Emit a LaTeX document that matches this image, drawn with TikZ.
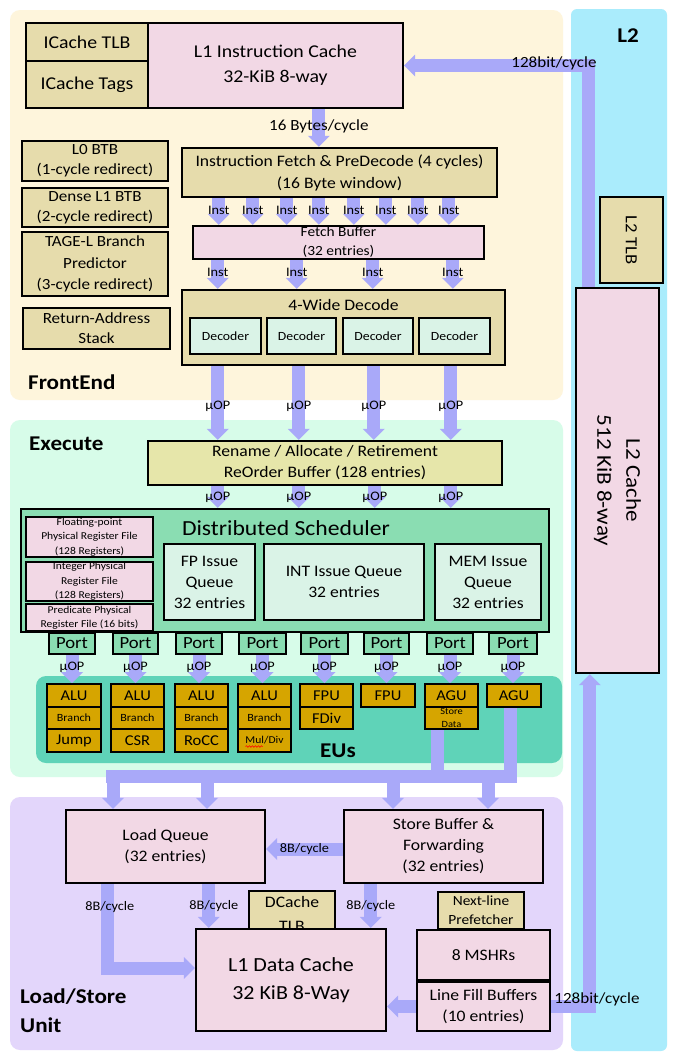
\documentclass[tikz,border=0pt]{standalone}
\usepackage{fontspec}
\setmainfont{Carlito}[FakeStretch=1.1]
\usetikzlibrary{arrows.meta,decorations.pathmorphing}
\definecolor{cFront}{HTML}{FEF5DC}
\definecolor{cLtwo}{HTML}{AAECFC}
\definecolor{cExec}{HTML}{D7FCE9}
\definecolor{cLSU}{HTML}{E3D6FB}
\definecolor{cPink}{HTML}{F2D8E5}
\definecolor{cTan}{HTML}{E6DCAC}
\definecolor{cRen}{HTML}{E6E6AA}
\definecolor{cSched}{HTML}{8ADDB2}
\definecolor{cMint}{HTML}{DAF3E7}
\definecolor{cEU}{HTML}{5FD3B8}
\definecolor{cGold}{HTML}{D6A500}
\definecolor{cArr}{HTML}{A9A9F9}
\newcommand\fsz[2]{\fontsize{#1}{#2}\selectfont}
\newcommand\bxnode[7]{\pgfmathsetmacro\bxw{#4-#2}\pgfmathsetmacro\bxh{#5-#3}%
  \node[#6,minimum width=\bxw pt,minimum height=\bxh pt] (#1) at ({(#2+#4)/2},{(#3+#5)/2}) {#7};}
\begin{document}
\begin{tikzpicture}[x=1pt,y=-1pt,
  blk/.style={draw=black,line width=2.4pt,inner sep=0pt,align=center,font=\fsz{16}{21}},
  pinkb/.style={blk,fill=cPink},
  tanb/.style={blk,fill=cTan},
  mintb/.style={blk,fill=cMint},
  renb/.style={blk,fill=cRen},
  schedb/.style={blk,fill=cSched},
  portb/.style={blk,fill=cSched,line width=1.8pt,font=\fsz{17}{19}},
  eub/.style={blk,fill=cGold,line width=2pt,font=\fsz{15}{17}},
  arr/.style={draw=cArr,line width=13pt,-{Triangle[width=22pt,length=11pt,line width=0pt]}},
  arrshaft/.style={draw=cArr,line width=13pt},
  lblS/.style={inner sep=0pt,font=\fsz{13}{15}},
  lblM/.style={inner sep=0pt,font=\fsz{15.5}{18}},
  ttl/.style={inner sep=0pt,font=\bfseries\fsz{21}{29},align=left},
]
\path[use as bounding box,fill=white] (0,0) rectangle (676,1063);
% panels
\fill[cFront,rounded corners=10pt] (10,10) rectangle (563,400);
\fill[cLtwo,rounded corners=6pt] (571,9) rectangle (667,1051);
\fill[cExec,rounded corners=10pt] (10,420) rectangle (563,777);
\fill[cLSU,rounded corners=10pt] (10,797) rectangle (563,1050);
\fill[cEU,rounded corners=10pt] (36,676) rectangle (562,763);
% titles
\node[ttl,anchor=west] (tFE) at (28,382) {FrontEnd};
\node[ttl,anchor=west] (tEX) at (29,444) {Execute};
\node[ttl] (tLtwo) at (628,36) {L2};
\node[ttl,anchor=west] (tLSU) at (20,1011) {Load/Store\\Unit};
\node[ttl] (tEU) at (338,751) {EUs};
% FrontEnd
\bxnode{ictlb}{26}{23}{148}{61}{tanb,font=\fsz{18}{22}}{ICache TLB}
\bxnode{ictags}{26}{61}{148}{108}{tanb,font=\fsz{18}{22}}{ICache Tags}
\bxnode{l1i}{148}{23}{403}{108}{pinkb,font=\fsz{18}{25}}{\rule{0pt}{4pt}L1 Instruction Cache\\32-KiB 8-way}
\bxnode{ifetch}{182}{148}{497}{197}{tanb,font=\fsz{16}{22}}{Instruction Fetch \& PreDecode (4 cycles)\\(16 Byte window)}
\bxnode{l0btb}{22}{141}{168}{181}{tanb,font=\fsz{15.5}{20}}{L0 BTB\\(1-cycle redirect)}
\bxnode{dbtb}{22}{188}{168}{227}{tanb,font=\fsz{15.5}{20}}{Dense L1 BTB\\(2-cycle redirect)}
\bxnode{tage}{22}{232}{168}{296}{tanb,font=\fsz{15.5}{21.5}}{TAGE-L Branch\\Predictor\\(3-cycle redirect)}
\bxnode{ras}{23}{308}{170}{349}{tanb,font=\fsz{15.5}{20}}{Return-Address\\Stack}
\bxnode{fbuf}{193}{226}{484}{259}{pinkb,font=\fsz{14}{19}}{Fetch Buffer\\(32 entries)}
\bxnode{decode}{182}{290}{505}{365}{tanb}{}
\node[font=\fsz{16}{20}] (decT) at (343.5,305) {4-Wide Decode};
\bxnode{dec1}{190}{318}{261}{354}{mintb,font=\fsz{12.5}{15}}{Decoder}
\bxnode{dec2}{267}{318}{336}{354}{mintb,font=\fsz{12.5}{15}}{Decoder}
\bxnode{dec3}{343}{318}{413}{354}{mintb,font=\fsz{12.5}{15}}{Decoder}
\bxnode{dec4}{419}{318}{490}{354}{mintb,font=\fsz{12.5}{15}}{Decoder}
% L2
\bxnode{l2tlb}{600}{197}{663}{283}{tanb}{}
\node[rotate=-90,font=\fsz{17}{20}] (l2tlbT) at (l2tlb.center) {L2 TLB};
\bxnode{l2c}{576}{288}{659}{673}{pinkb}{}
\node[rotate=-90,align=center,font=\fsz{21}{29}] (l2cT) at (l2c.center) {L2 Cache\\512 KiB 8-way};
% Execute
\bxnode{ren}{148}{441}{502}{485}{renb,font=\fsz{16}{21}}{Rename / Allocate / Retirement\\ReOrder Buffer (128 entries)}
\bxnode{sched}{21}{509}{549}{632}{schedb}{}
\node[font=\fsz{21.5}{24}] (schedT) at (286,528) {Distributed Scheduler};
\bxnode{fprf}{26}{517}{153}{557}{pinkb,line width=2pt,font=\fsz{10.5}{14.5}}{Floating-point\\Physical Register File\\(128 Registers)}
\bxnode{intrf}{26}{562}{153}{601}{pinkb,line width=2pt,font=\fsz{10.5}{14.5}}{Integer Physical\\Register File\\(128 Registers)}
\bxnode{prrf}{26}{604}{153}{631}{pinkb,line width=2pt,font=\fsz{10.5}{14}}{Predicate Physical\\Register File (16 bits)}
\bxnode{fpiq}{164}{544}{255}{620}{mintb,font=\fsz{16}{21}}{FP Issue\\Queue\\32 entries}
\bxnode{intiq}{264}{544}{424}{620}{mintb,font=\fsz{16}{21}}{INT Issue Queue\\32 entries}
\bxnode{memiq}{435}{544}{541}{620}{mintb,font=\fsz{16}{21}}{MEM Issue\\Queue\\32 entries}
\foreach \a/\b [count=\i] in {49/95,113/158,176/222,239/286,301/348,364/409,427/473,489/537}
  {\bxnode{port\i}{\a}{633}{\b}{654}{portb}{Port}}
% EUs
\bxnode{e1a}{47}{684}{101}{707}{eub}{ALU}
\bxnode{e1b}{47}{707}{101}{729}{eub,font=\fsz{11}{12}}{Branch}
\bxnode{e1c}{47}{729}{101}{752}{eub}{Jump}
\bxnode{e2a}{111}{684}{164}{707}{eub}{ALU}
\bxnode{e2b}{111}{707}{164}{729}{eub,font=\fsz{11}{12}}{Branch}
\bxnode{e2c}{111}{729}{164}{752}{eub}{CSR}
\bxnode{e3a}{175}{684}{228}{707}{eub}{ALU}
\bxnode{e3b}{175}{707}{228}{729}{eub,font=\fsz{11}{12}}{Branch}
\bxnode{e3c}{175}{729}{228}{752}{eub}{RoCC}
\bxnode{e4a}{238}{684}{291}{707}{eub}{ALU}
\bxnode{e4b}{238}{707}{291}{729}{eub,font=\fsz{11}{12}}{Branch}
\bxnode{e4c}{238}{729}{291}{752}{eub,font=\fsz{10.5}{12}}{Mul/Div}
\draw[red,line width=0.6pt,decorate,decoration={snake,amplitude=0.8pt,segment length=3pt}] ([xshift=-19pt,yshift=-6pt]e4c.center) -- ([xshift=-2pt,yshift=-6pt]e4c.center);
\bxnode{e5a}{300}{684}{353}{707}{eub}{FPU}
\bxnode{e5b}{300}{707}{353}{729}{eub}{FDiv}
\bxnode{e6a}{361}{684}{415}{707}{eub}{FPU}
\bxnode{e7a}{425}{684}{478}{707}{eub}{AGU}
\bxnode{e7b}{425}{707}{478}{729}{eub,font=\fsz{9.5}{12.5}}{Store\\Data}
\bxnode{e8a}{487}{684}{541}{707}{eub}{AGU}
% Load/Store
\bxnode{lq}{66}{810}{265}{883}{pinkb,font=\fsz{16}{21}}{Load Queue\\(32 entries)}
\bxnode{sb}{344}{810}{543}{883}{pinkb,font=\fsz{16}{21}}{Store Buffer \&\\Forwarding\\(32 entries)}
\bxnode{dtlb}{249}{891}{335}{936}{tanb,font=\fsz{16}{24}}{DCache\\TLB}
\bxnode{l1d}{196}{929}{386}{1031}{pinkb,font=\fsz{20}{28}}{L1 Data Cache\\32 KiB 8-Way}
\bxnode{nlp}{438}{892}{524}{929}{tanb,font=\fsz{14}{19}}{Next-line\\Prefetcher}
\bxnode{mshr}{417}{930}{550}{980}{pinkb,font=\fsz{16}{21}}{8 MSHRs}
\bxnode{lfb}{417}{982}{550}{1031}{pinkb,font=\fsz{16}{21}}{Line Fill Buffers\\(10 entries)}
% connectors: frontend
\draw[arr] ([xshift=172pt]l1i.south west) -- ([xshift=172pt]l1i.south west |- ifetch.north)
  node[lblM,pos=.45] (lb16) {16 Bytes/cycle};
\foreach \d [count=\k] in {38,72,106,138,173,205,237,268}
  \draw[arr] ([xshift=\d pt]ifetch.south west) -- ([xshift=\d pt]ifetch.south west |- fbuf.north)
  node[lblS,pos=.45] (inA\k) {Inst};
\foreach \d [count=\k] in {26,105,181,261}
  \draw[arr] ([xshift=\d pt]fbuf.south west) -- ([xshift=\d pt]fbuf.south west |- decode.north)
  node[lblS,pos=.42] (inB\k) {Inst};
\foreach \d [count=\k] in {37,118,193,270}
  \draw[arr] ([xshift=\d pt]decode.south west) -- ([xshift=\d pt]decode.south west |- ren.north)
  node[lblS,pos=.55] (uA\k) {μOP};
\foreach \d [count=\k] in {71,152,228,304}
  \draw[arr] ([xshift=\d pt]ren.south west) -- ([xshift=\d pt]ren.south west |- sched.north)
  node[lblS,pos=.5] (uB\k) {μOP};
\foreach \i in {1,...,8}
  \draw[arr] (port\i.south) -- (port\i.south |- e1a.north) node[lblS,pos=.43] (uC\i) {μOP};
% EU bus
\coordinate (busL) at (106,776.5);
\coordinate (busR) at (517,776.5);
\draw[arrshaft] (busL) -- (busR);
\draw[arrshaft] ([xshift=-14.5pt]e7b.south) -- ([xshift=-14.5pt]e7b.south |- busL);
\draw[arrshaft] ([xshift=-4pt]e8a.south) -- ([xshift=-4pt]e8a.south |- busL);
\draw[arr] ([xshift=7pt]busL) -- ([xshift=7pt]busL |- lq.north);
\draw[arr] ([xshift=101pt]busL) -- ([xshift=101pt]busL |- lq.north);
\draw[arr] ([xshift=287pt]busL) -- ([xshift=287pt]busL |- sb.north);
\draw[arr] ([xshift=382pt]busL) -- ([xshift=382pt]busL |- sb.north);
% LSU connectors
\draw[arr] ([yshift=-2.5pt]sb.west) -- ([yshift=-2.5pt]sb.west -| lq.east) node[lblS,midway] (lbSL) {8B/cycle};
\draw[arr] ([xshift=43pt]lq.south west) |- ([yshift=12pt]l1d.west) node[lblS,pos=.135,xshift=2pt] (lbL1) {8B/cycle};
\draw[arr] ([xshift=144pt]lq.south west) -- ([xshift=144pt]lq.south west |- l1d.north) node[lblS,pos=.5,xshift=5pt] (lbL2) {8B/cycle};
\draw[arr] ([xshift=28pt]sb.south west) -- ([xshift=28pt]sb.south west |- l1d.north) node[lblS,pos=.5] (lbS1) {8B/cycle};
\draw[arr] (lfb.west) -- (lfb.west -| l1d.east);
% L2 connectors
\draw[arr] ([xshift=14pt]l2c.north west) |- (l1i.east);
\node[lblM] (lbT) at (554,63) {128bit/cycle};
\draw[arr] (lfb.east) -| ([xshift=15pt]l2c.south west);
\node[lblM] (lbB) at (597,999) {128bit/cycle};
\end{tikzpicture}
\end{document}
